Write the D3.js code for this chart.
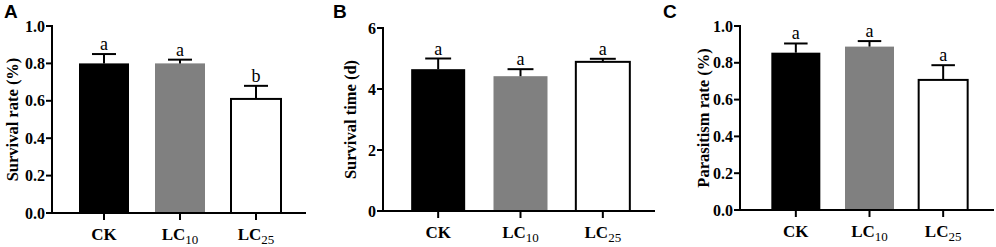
<!DOCTYPE html>
<html>
<head>
<meta charset="utf-8">
<script src="https://cdn.jsdelivr.net/npm/d3@7"></script>
<style>
  body { margin: 0; background: #fff; }
  svg text { font-family: "Liberation Serif", "Times New Roman", serif; }
  svg text.tag { font-family: "Liberation Sans", Arial, sans-serif; }
</style>
</head>
<body>
<script>
const width = 996;
const height = 247;

const categories = ["CK", "LC10", "LC25"];
const fills = ["#000000", "#808080", "#ffffff"];

// Panel A: survival rate
const survivalRate = [0.80, 0.80, 0.61];
const survivalRateErr = [0.05, 0.02, 0.07];
const survivalRateLetters = ["a", "a", "b"];
const rateTicks = [0, 0.2, 0.4, 0.6, 0.8, 1.0];

// Panel B: survival time
const survivalTime = [4.65, 4.42, 4.89];
const survivalTimeErr = [0.35, 0.23, 0.10];
const survivalTimeLetters = ["a", "a", "a"];
const timeTicks = [0, 2, 4, 6];

// Panel C: parasitism rate
const parasitism = [0.855, 0.888, 0.707];
const parasitismErr = [0.05, 0.03, 0.08];
const parasitismLetters = ["a", "a", "a"];

const svg = d3.select("body").append("svg")
    .attr("width", width)
    .attr("height", height);

const panels = [
    {tag: "A", tagX: 4, values: survivalRate, errs: survivalRateErr, letters: survivalRateLetters,
     ticks: rateTicks, max: 1, fmt: d3.format(".1f"), label: "Survival rate (%)",
     axisX: 52, axisEnd: 306, top: 26, bottom: 213, band: [66, 294], barW: 50, labelX: 12},
    {tag: "B", tagX: 333, values: survivalTime, errs: survivalTimeErr, letters: survivalTimeLetters,
     ticks: timeTicks, max: 6, fmt: d3.format("d"), label: "Survival time (d)",
     axisX: 383, axisEnd: 655, top: 28, bottom: 211, band: [397, 644], barW: 54, labelX: 350},
    {tag: "C", tagX: 663, values: parasitism, errs: parasitismErr, letters: parasitismLetters,
     ticks: rateTicks, max: 1, fmt: d3.format(".1f"), label: "Parasitism rate (%)",
     axisX: 740, axisEnd: 994, top: 26, bottom: 210, band: [759, 980], barW: 49, labelX: 703}
];

panels.forEach(p => {
    const g = svg.append("g");
    const y = d3.scaleLinear().domain([0, p.max]).range([p.bottom, p.top]);
    const x = d3.scaleBand().domain(categories).range(p.band);
    const step = x.step();
    x.paddingInner(1 - p.barW / step).paddingOuter((1 - p.barW / step) / 2);

    // bars
    g.selectAll("rect.bar")
        .data(p.values)
        .join("rect")
        .attr("class", "bar")
        .attr("x", (d, i) => x(categories[i]))
        .attr("y", d => y(d))
        .attr("width", x.bandwidth())
        .attr("height", d => y(0) - y(d))
        .attr("fill", (d, i) => fills[i])
        .attr("stroke", "#000")
        .attr("stroke-width", (d, i) => i === 2 ? 2 : 0);

    // error bars (upper only)
    const cap = x.bandwidth() * 0.48;
    p.values.forEach((v, i) => {
        const cx = x(categories[i]) + x.bandwidth() / 2;
        const yTop = y(v + p.errs[i]);
        g.append("line")
            .attr("x1", cx).attr("x2", cx)
            .attr("y1", y(v)).attr("y2", yTop)
            .attr("stroke", "#000").attr("stroke-width", 2);
        g.append("line")
            .attr("x1", cx - cap / 2).attr("x2", cx + cap / 2)
            .attr("y1", yTop).attr("y2", yTop)
            .attr("stroke", "#000").attr("stroke-width", 2);
        g.append("text")
            .attr("x", cx)
            .attr("y", yTop - 4)
            .attr("text-anchor", "middle")
            .attr("font-size", 18)
            .text(p.letters[i]);
    });

    // y axis
    g.append("line")
        .attr("x1", p.axisX).attr("x2", p.axisX)
        .attr("y1", p.top - 1).attr("y2", p.bottom + 1)
        .attr("stroke", "#000").attr("stroke-width", 2);
    p.ticks.forEach(t => {
        g.append("line")
            .attr("x1", p.axisX - 6).attr("x2", p.axisX)
            .attr("y1", y(t)).attr("y2", y(t))
            .attr("stroke", "#000").attr("stroke-width", 2);
        g.append("text")
            .attr("x", p.axisX - 7)
            .attr("y", y(t))
            .attr("dy", "0.35em")
            .attr("text-anchor", "end")
            .attr("font-size", 16)
            .attr("font-weight", "bold")
            .text(p.fmt(t));
    });

    // x axis
    g.append("line")
        .attr("x1", p.axisX - 1).attr("x2", p.axisEnd)
        .attr("y1", p.bottom).attr("y2", p.bottom)
        .attr("stroke", "#000").attr("stroke-width", 2);
    categories.forEach(c => {
        const cx = x(c) + x.bandwidth() / 2;
        g.append("line")
            .attr("x1", cx).attr("x2", cx)
            .attr("y1", p.bottom).attr("y2", p.bottom + 7)
            .attr("stroke", "#000").attr("stroke-width", 2);
        const t = g.append("text")
            .attr("x", cx)
            .attr("y", p.bottom + 27)
            .attr("text-anchor", "middle")
            .attr("font-size", 17)
            .attr("font-weight", "bold");
        if (c.startsWith("LC")) {
            t.append("tspan").text("LC");
            t.append("tspan").attr("font-size", 13).attr("font-weight", "normal")
                .attr("dy", 4).text(c.slice(2));
        } else {
            t.text(c);
        }
    });

    // y label
    g.append("text")
        .attr("transform", `translate(${p.labelX},${(p.top + p.bottom) / 2}) rotate(-90)`)
        .attr("dy", "0.35em")
        .attr("text-anchor", "middle")
        .attr("font-size", 16.5)
        .attr("font-weight", "bold")
        .text(p.label);

    // panel tag
    g.append("text")
        .attr("class", "tag")
        .attr("x", p.tagX)
        .attr("y", 18)
        .attr("font-size", 19)
        .attr("font-weight", "bold")
        .text(p.tag);
});
</script>
</body>
</html>
